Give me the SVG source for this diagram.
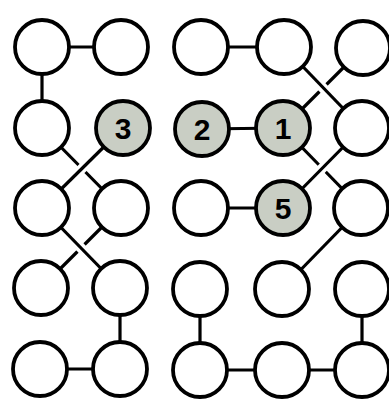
<svg xmlns="http://www.w3.org/2000/svg" width="389" height="401" viewBox="0 0 389 401">
<style>
.n{fill:#fff;stroke:#000;stroke-width:3.8}
.s{fill:#c9cec4;stroke:#000;stroke-width:3.8}
.e{stroke:#000;stroke-width:3.2;fill:none}
.g{stroke:#fff;stroke-width:10;fill:none}
.t{font-family:"Liberation Sans",Arial,sans-serif;font-weight:bold;font-size:30px;text-anchor:middle;fill:#000}
</style>
<rect width="389" height="401" fill="#fff"/>
<g id="connectors">
<line class="e" x1="42" y1="47" x2="121" y2="47"/>
<line class="e" x1="42" y1="47" x2="42" y2="128"/>
<line class="e" x1="42" y1="128" x2="121" y2="208"/>
<line class="g" x1="105" y1="146" x2="60" y2="190"/>
<line class="e" x1="123" y1="128" x2="42" y2="208"/>
<line class="e" x1="121" y1="208" x2="41" y2="288"/>
<line class="g" x1="60" y1="226" x2="102" y2="270"/>
<line class="e" x1="42" y1="208" x2="120" y2="288"/>
<line class="e" x1="120" y1="288" x2="120" y2="369"/>
<line class="e" x1="40" y1="369" x2="120" y2="369"/>
<line class="e" x1="201" y1="47" x2="284" y2="47"/>
<line class="e" x1="363" y1="48" x2="283" y2="128"/>
<line class="g" x1="302" y1="66" x2="344" y2="110"/>
<line class="e" x1="284" y1="47" x2="362" y2="128"/>
<line class="e" x1="202" y1="129" x2="283" y2="128"/>
<line class="e" x1="283" y1="128" x2="361" y2="208"/>
<line class="g" x1="344" y1="146" x2="301" y2="190"/>
<line class="e" x1="362" y1="128" x2="283" y2="208"/>
<line class="e" x1="201" y1="208" x2="283" y2="208"/>
<line class="e" x1="361" y1="208" x2="282" y2="289"/>
<line class="e" x1="200" y1="289" x2="200" y2="370"/>
<line class="e" x1="200" y1="370" x2="362" y2="370"/>
<line class="e" x1="362" y1="289" x2="362" y2="370"/>
</g>
<g id="n11"><circle class="n" cx="42" cy="47" r="27"/></g>
<g id="n12"><circle class="n" cx="121" cy="47" r="27"/></g>
<g id="n13"><circle class="n" cx="201" cy="47" r="27"/></g>
<g id="n14"><circle class="n" cx="284" cy="47" r="27"/></g>
<g id="n15"><circle class="n" cx="363" cy="48" r="27"/></g>
<g id="n21"><circle class="n" cx="42" cy="128" r="27"/></g>
<g id="n22"><circle class="s" cx="123" cy="128" r="27"/><text class="t" x="123" y="139">3</text></g>
<g id="n23"><circle class="s" cx="202" cy="129" r="27"/><text class="t" x="202" y="140">2</text></g>
<g id="n24"><circle class="s" cx="283" cy="128" r="27"/><text class="t" x="283" y="139">1</text></g>
<g id="n25"><circle class="n" cx="362" cy="128" r="27"/></g>
<g id="n31"><circle class="n" cx="42" cy="208" r="27"/></g>
<g id="n32"><circle class="n" cx="121" cy="208" r="27"/></g>
<g id="n33"><circle class="n" cx="201" cy="208" r="27"/></g>
<g id="n34"><circle class="s" cx="283" cy="208" r="27"/><text class="t" x="283" y="219">5</text></g>
<g id="n35"><circle class="n" cx="361" cy="208" r="27"/></g>
<g id="n41"><circle class="n" cx="41" cy="288" r="27"/></g>
<g id="n42"><circle class="n" cx="120" cy="288" r="27"/></g>
<g id="n43"><circle class="n" cx="200" cy="289" r="27"/></g>
<g id="n44"><circle class="n" cx="282" cy="289" r="27"/></g>
<g id="n45"><circle class="n" cx="362" cy="289" r="27"/></g>
<g id="n51"><circle class="n" cx="40" cy="369" r="27"/></g>
<g id="n52"><circle class="n" cx="120" cy="369" r="27"/></g>
<g id="n53"><circle class="n" cx="200" cy="370" r="27"/></g>
<g id="n54"><circle class="n" cx="282" cy="370" r="27"/></g>
<g id="n55"><circle class="n" cx="362" cy="370" r="27"/></g>
</svg>
